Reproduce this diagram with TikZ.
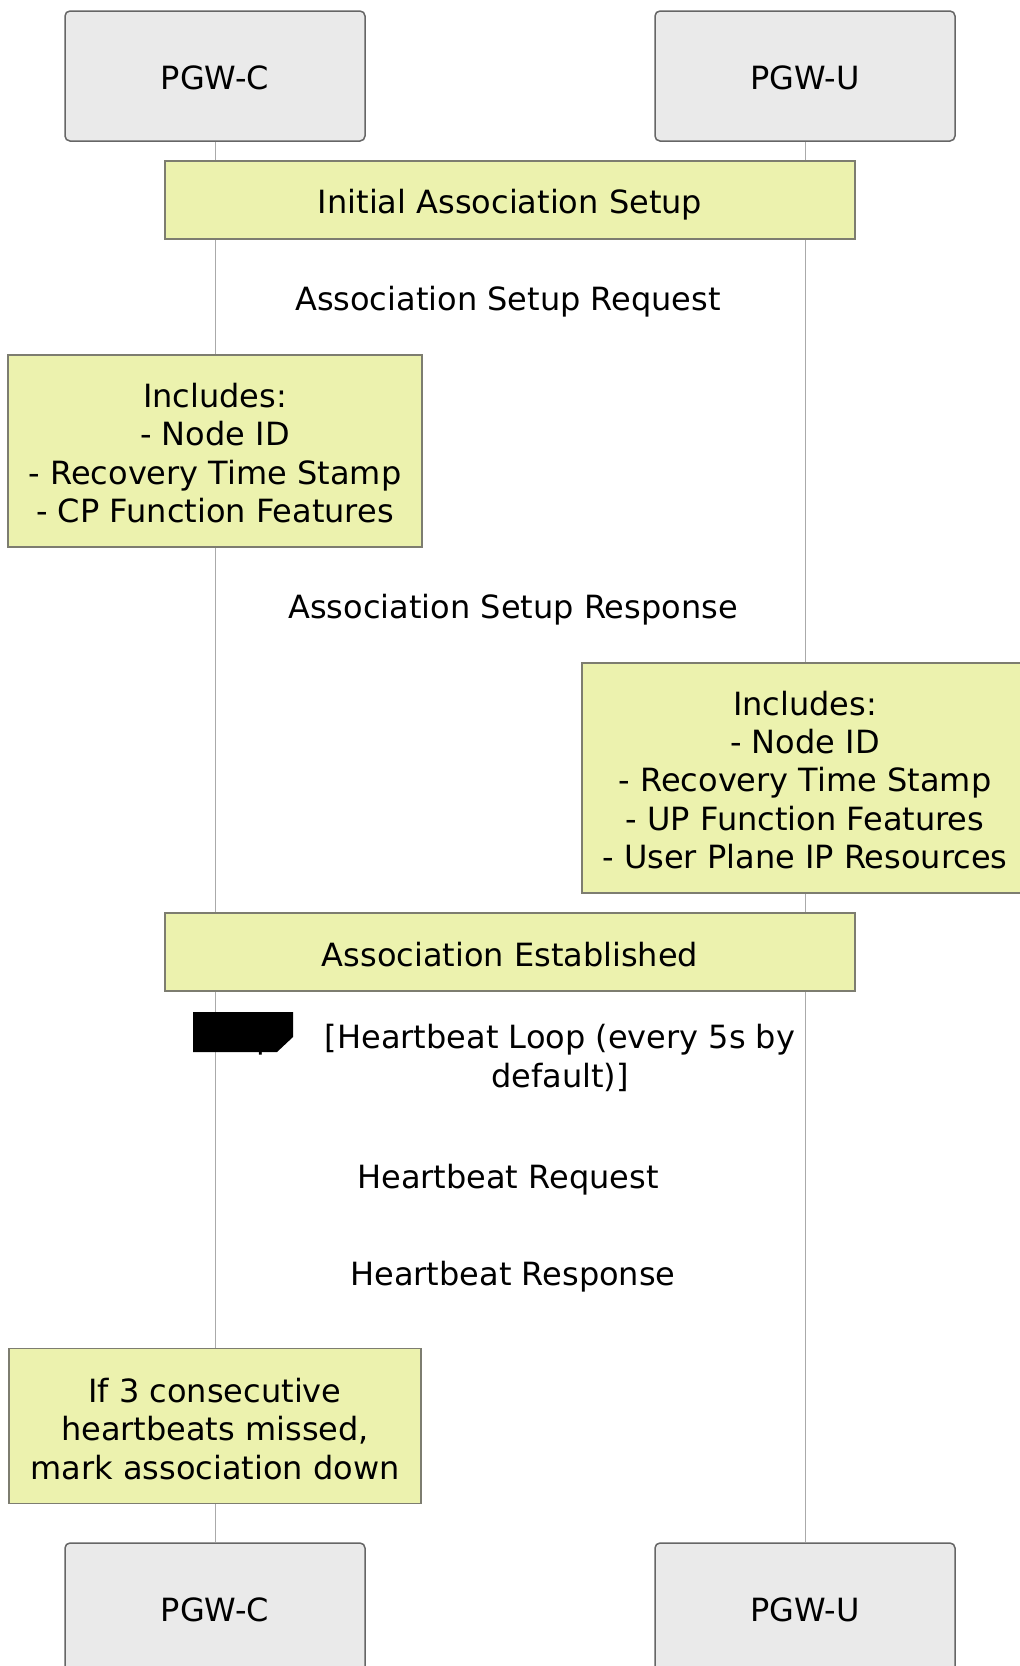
\documentclass[tikz,border=0pt]{standalone}
\usepackage{fontspec}
\setmainfont{DejaVu Sans}
\definecolor{actorfill}{RGB}{234,234,234}
\definecolor{actordraw}{RGB}{102,102,102}
\definecolor{notefill}{RGB}{236,242,174}
\definecolor{notedraw}{RGB}{125,125,112}
\definecolor{lifecol}{RGB}{170,170,170}
\tikzset{
  txt/.style={font=\fontsize{32}{38.25}\selectfont, align=center, inner sep=0pt},
  actor/.style={draw=actordraw, fill=actorfill, line width=1.5pt, rounded corners=5pt, minimum width=300pt, minimum height=130pt, inner sep=0pt},
  notebox/.style={draw=notedraw, fill=notefill, line width=1.5pt, inner sep=0pt},
  life/.style={draw=lifecol, line width=1pt},
  msg/.style={txt}
}
\begin{document}
\begin{tikzpicture}[x=1pt,y=-1pt]
\clip (0,0) rectangle (1020,1666);
\fill[white] (0,0) rectangle (1020,1666);
% actors
\node[actor] (cTop) at (215,76) {};
\node[actor] (uTop) at (805,76) {};
\node[actor] (cBot) at (215,1608) {};
\node[actor] (uBot) at (805,1608) {};
\node[txt] (cTopT) at ([yshift=-1.5pt]cTop.center) {PGW-C};
\node[txt] (uTopT) at ([yshift=-1.5pt]uTop.center) {PGW-U};
\node[txt] (cBotT) at ([yshift=-2pt]cBot.center) {PGW-C};
\node[txt] (uBotT) at ([yshift=-2pt]uBot.center) {PGW-U};
% lifelines
\draw[life] (cTop.south) -- (cBot.north);
\draw[life] (uTop.south) -- (uBot.north);
% notes
\node[notebox, minimum width=690pt, minimum height=78pt] (initial) at (510,200) {};
\node[txt] (initialT) at ([yshift=-5pt]initial.center) {Initial Association Setup};
\node[msg] (req) at (508,302) {Association Setup Request};
\node[notebox, minimum width=414pt, minimum height=192pt] (noteC) at (215,451) {};
\node[txt] (noteCT) at ([yshift=-2pt]noteC.center) {Includes:\\- Node ID\\- Recovery Time Stamp\\- CP Function Features};
\node[msg] (resp) at (513,610) {Association Setup Response};
\node[notebox, minimum width=446pt, minimum height=230pt] (noteU) at (805,778) {};
\node[txt] (noteUT) at ([yshift=-2pt]noteU.center) {Includes:\\- Node ID\\- Recovery Time Stamp\\- UP Function Features\\- User Plane IP Resources};
\node[notebox, minimum width=690pt, minimum height=78pt] (established) at (510,952) {};
\node[txt] (establishedT) at ([yshift=-2.5pt]established.center) {Association Established};
% loop label
\fill[black] (193,1012) -- (293,1012) -- (293,1037) -- (277,1052) -- (193,1052) -- cycle;
\node[txt, anchor=base, text=black] (looplbl) at (243,1048) {loop};
\node[msg] (loopcond) at (560,1058) {[Heartbeat Loop (every 5s by\\default)]};
\node[msg] (hbreq) at (508,1180) {Heartbeat Request};
\node[msg] (hbresp) at (513,1277) {Heartbeat Response};
\node[notebox, minimum width=412pt, minimum height=155pt] (noteMiss) at (215,1426) {};
\node[txt] (noteMissT) at ([yshift=-3pt]noteMiss.center) {If 3 consecutive\\heartbeats missed,\\mark association down};
\end{tikzpicture}
\end{document}
